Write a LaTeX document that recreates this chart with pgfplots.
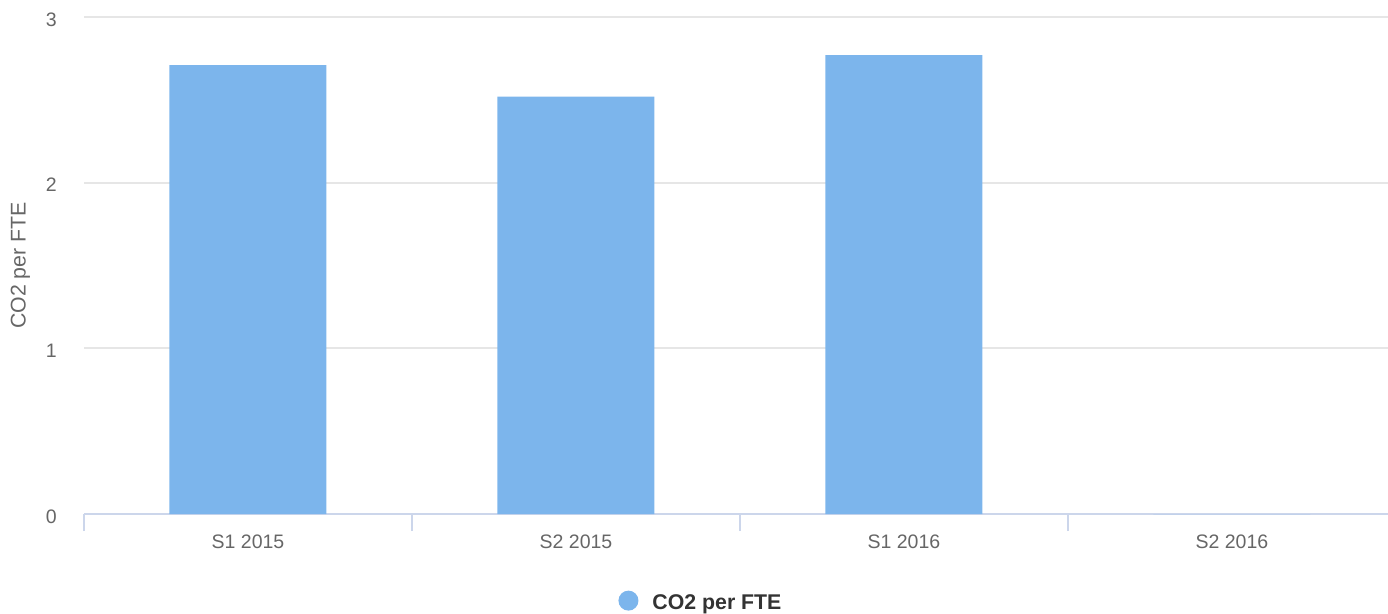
\documentclass[border=0pt]{standalone}
\usepackage{pgfplots}
\pgfplotsset{compat=1.18}
\usepackage{fontspec}
\setmainfont{Liberation Sans}
\definecolor{barblue}{HTML}{7CB5EC}
\definecolor{axisc}{HTML}{CCD6EB}
\definecolor{gridc}{HTML}{E6E6E6}
\definecolor{tickc}{HTML}{666666}
\definecolor{legc}{HTML}{333333}
\begin{document}
\begin{tikzpicture}
\useasboundingbox (0,0) rectangle (1388pt,613pt);
\begin{axis}[
  at={(84pt,99pt)}, anchor=south west,
  scale only axis, width=1312pt, height=497pt,
  xmin=-0.5, xmax=3.5, ymin=0, ymax=3,
  ybar, bar width=157pt,
  axis x line*=bottom, axis y line*=left,
  x axis line style={draw=axisc, line width=1.7pt},
  y axis line style={draw=none},
  xtick={0,1,2,3},
  xticklabels={S1 2015,S2 2015,S1 2016,S2 2016},
  minor xtick={-0.5,0.5,1.5,2.5},
  tick align=outside,
  major tick length=0pt,
  minor tick length=17pt,
  major x tick style={draw=none},
  minor x tick style={draw=axisc, line width=1.7pt},
  major y tick style={draw=none},
  ytick={0,1,2,3},
  ymajorgrids,
  major grid style={draw=gridc, line width=1.7pt},
  xticklabel style={anchor=north, inner sep=0pt, yshift=-21pt, font=\fontsize{19.5}{22}\selectfont, text=tickc},
  yticklabel style={anchor=east, inner sep=0pt, xshift=-27pt, yshift=-2.5pt, font=\fontsize{19.5}{22}\selectfont, text=tickc},
  /pgf/number format/assume math mode=true,
  ylabel={CO2 per FTE},
  every axis y label/.style={at={(axis description cs:-0.0484,0.5)}, anchor=center, rotate=90, font=\fontsize{21.3}{24}\selectfont, text=tickc},
  legend style={at={(axis description cs:0.4695,-0.175)}, anchor=center, draw=none, fill=none, inner sep=0pt, column sep=14pt,
    nodes={inner sep=0pt, font=\fontsize{21.3}{24}\selectfont\bfseries, text=legc}},
  every axis plot post/.append style={legend image code/.code={\fill[barblue] (10pt,2.5pt) circle (10pt);}},
]
\addplot[fill=barblue, draw=none] coordinates {(0,2.71) (1,2.52) (2,2.77) (3,0)};
\addlegendentry{CO2 per FTE}
\end{axis}
\end{tikzpicture}
\end{document}
